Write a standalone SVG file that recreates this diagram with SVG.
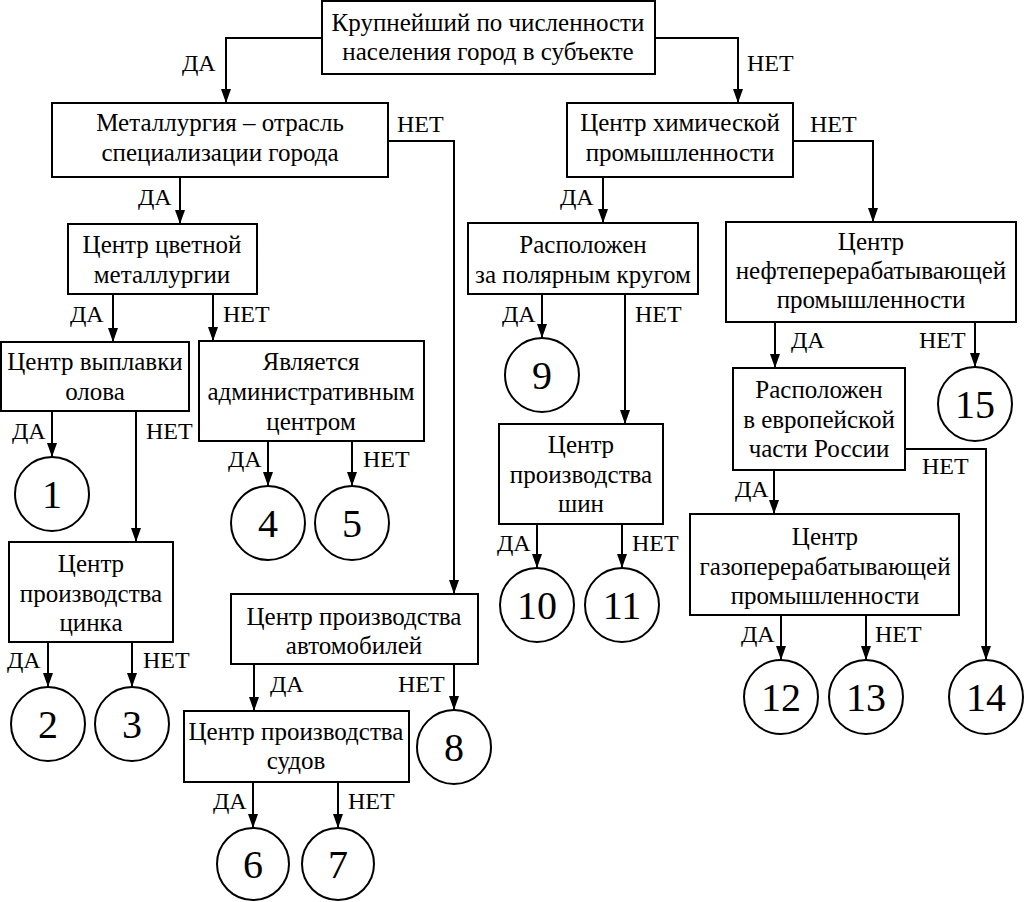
<svg xmlns="http://www.w3.org/2000/svg" width="1024" height="902" viewBox="0 0 1024 902">
<style>
.b{fill:#fff;stroke:#000;stroke-width:2}
.e{fill:none;stroke:#000;stroke-width:2}
</style>
<defs>
<marker id="arrow" viewBox="0 0 14 10" refX="14" refY="5" markerWidth="14" markerHeight="10" markerUnits="userSpaceOnUse" orient="auto">
<path d="M0,0 L14,5 L0,10 z" fill="#000"/>
</marker>
</defs>
<rect x="0" y="0" width="1024" height="902" fill="#ffffff"/>
<g id="connectors">
<path class="e" marker-end="url(#arrow)" d="M322,38 H226 V103"/>
<path class="e" marker-end="url(#arrow)" d="M655,38 H738 V103"/>
<path class="e" marker-end="url(#arrow)" d="M388,141 H454 V594"/>
<path class="e" marker-end="url(#arrow)" d="M180,177 V224"/>
<path class="e" marker-end="url(#arrow)" d="M793,141 H873 V222"/>
<path class="e" marker-end="url(#arrow)" d="M603,177 V223"/>
<path class="e" marker-end="url(#arrow)" d="M113,294 V342"/>
<path class="e" marker-end="url(#arrow)" d="M213,294 V341"/>
<path class="e" marker-end="url(#arrow)" d="M52,411 V457"/>
<path class="e" marker-end="url(#arrow)" d="M136,411 V542"/>
<path class="e" marker-end="url(#arrow)" d="M268,441 V486"/>
<path class="e" marker-end="url(#arrow)" d="M352,441 V486"/>
<path class="e" marker-end="url(#arrow)" d="M48,642 V687"/>
<path class="e" marker-end="url(#arrow)" d="M132,642 V687"/>
<path class="e" marker-end="url(#arrow)" d="M254,664 V711"/>
<path class="e" marker-end="url(#arrow)" d="M454,664 V710"/>
<path class="e" marker-end="url(#arrow)" d="M253,782 V828"/>
<path class="e" marker-end="url(#arrow)" d="M338,782 V828"/>
<path class="e" marker-end="url(#arrow)" d="M542,294 V338"/>
<path class="e" marker-end="url(#arrow)" d="M625,294 V424"/>
<path class="e" marker-end="url(#arrow)" d="M537,524 V568"/>
<path class="e" marker-end="url(#arrow)" d="M622,524 V568"/>
<path class="e" marker-end="url(#arrow)" d="M775,322 V368"/>
<path class="e" marker-end="url(#arrow)" d="M975,322 V367"/>
<path class="e" marker-end="url(#arrow)" d="M774,470 V514"/>
<path class="e" marker-end="url(#arrow)" d="M905,449 H986 V660"/>
<path class="e" marker-end="url(#arrow)" d="M781,615 V660"/>
<path class="e" marker-end="url(#arrow)" d="M866,615 V660"/>
<text font-family="Liberation Serif" font-size="24" x="182" y="71">ДА</text>
<text font-family="Liberation Serif" font-size="24" x="747" y="71">НЕТ</text>
<text font-family="Liberation Serif" font-size="24" x="397" y="132">НЕТ</text>
<text font-family="Liberation Serif" font-size="24" x="138" y="205">ДА</text>
<text font-family="Liberation Serif" font-size="24" x="810" y="132">НЕТ</text>
<text font-family="Liberation Serif" font-size="24" x="560" y="205">ДА</text>
<text font-family="Liberation Serif" font-size="24" x="70" y="322">ДА</text>
<text font-family="Liberation Serif" font-size="24" x="223" y="322">НЕТ</text>
<text font-family="Liberation Serif" font-size="24" x="12" y="439">ДА</text>
<text font-family="Liberation Serif" font-size="24" x="146" y="439">НЕТ</text>
<text font-family="Liberation Serif" font-size="24" x="228" y="467">ДА</text>
<text font-family="Liberation Serif" font-size="24" x="363" y="467">НЕТ</text>
<text font-family="Liberation Serif" font-size="24" x="7" y="668">ДА</text>
<text font-family="Liberation Serif" font-size="24" x="143" y="668">НЕТ</text>
<text font-family="Liberation Serif" font-size="24" x="270" y="692">ДА</text>
<text font-family="Liberation Serif" font-size="24" x="398" y="692">НЕТ</text>
<text font-family="Liberation Serif" font-size="24" x="213" y="809">ДА</text>
<text font-family="Liberation Serif" font-size="24" x="348" y="809">НЕТ</text>
<text font-family="Liberation Serif" font-size="24" x="502" y="322">ДА</text>
<text font-family="Liberation Serif" font-size="24" x="635" y="322">НЕТ</text>
<text font-family="Liberation Serif" font-size="24" x="497" y="551">ДА</text>
<text font-family="Liberation Serif" font-size="24" x="632" y="551">НЕТ</text>
<text font-family="Liberation Serif" font-size="24" x="791" y="348">ДА</text>
<text font-family="Liberation Serif" font-size="24" x="919" y="348">НЕТ</text>
<text font-family="Liberation Serif" font-size="24" x="922" y="474">НЕТ</text>
<text font-family="Liberation Serif" font-size="24" x="735" y="497">ДА</text>
<text font-family="Liberation Serif" font-size="24" x="741" y="642">ДА</text>
<text font-family="Liberation Serif" font-size="24" x="875" y="642">НЕТ</text>
</g>
<g id="n-top"><rect class="b" x="322" y="1" width="333" height="73"/><text font-family="Liberation Serif" font-size="25" text-anchor="middle" x="488" y="31">Крупнейший по численности</text><text font-family="Liberation Serif" font-size="25" text-anchor="middle" x="488" y="60">населения город в субъекте</text></g>
<g id="n-metal"><rect class="b" x="52" y="103" width="336" height="74"/><text font-family="Liberation Serif" font-size="25" text-anchor="middle" x="220" y="131">Металлургия – отрасль</text><text font-family="Liberation Serif" font-size="25" text-anchor="middle" x="220" y="161">специализации города</text></g>
<g id="n-chem"><rect class="b" x="567" y="103" width="226" height="74"/><text font-family="Liberation Serif" font-size="25" text-anchor="middle" x="680" y="131">Центр химической</text><text font-family="Liberation Serif" font-size="25" text-anchor="middle" x="680" y="161">промышленности</text></g>
<g id="n-color"><rect class="b" x="68" y="224" width="189" height="70"/><text font-family="Liberation Serif" font-size="25" text-anchor="middle" x="162" y="253">Центр цветной</text><text font-family="Liberation Serif" font-size="25" text-anchor="middle" x="162" y="283">металлургии</text></g>
<g id="n-tin"><rect class="b" x="1" y="342" width="188" height="69"/><text font-family="Liberation Serif" font-size="25" text-anchor="middle" x="95" y="370">Центр выплавки</text><text font-family="Liberation Serif" font-size="25" text-anchor="middle" x="95" y="400">олова</text></g>
<g id="n-admin"><rect class="b" x="199" y="341" width="225" height="100"/><text font-family="Liberation Serif" font-size="25" text-anchor="middle" x="311" y="370">Является</text><text font-family="Liberation Serif" font-size="25" text-anchor="middle" x="311" y="400">административным</text><text font-family="Liberation Serif" font-size="25" text-anchor="middle" x="311" y="430">центром</text></g>
<g id="n-zinc"><rect class="b" x="9" y="542" width="164" height="100"/><text font-family="Liberation Serif" font-size="25" text-anchor="middle" x="91" y="572">Центр</text><text font-family="Liberation Serif" font-size="25" text-anchor="middle" x="91" y="602">производства</text><text font-family="Liberation Serif" font-size="25" text-anchor="middle" x="91" y="631">цинка</text></g>
<g id="n-auto"><rect class="b" x="231" y="594" width="247" height="70"/><text font-family="Liberation Serif" font-size="25" text-anchor="middle" x="354" y="625">Центр производства</text><text font-family="Liberation Serif" font-size="25" text-anchor="middle" x="354" y="654">автомобилей</text></g>
<g id="n-ship"><rect class="b" x="184" y="711" width="225" height="71"/><text font-family="Liberation Serif" font-size="25" text-anchor="middle" x="296" y="740">Центр производства</text><text font-family="Liberation Serif" font-size="25" text-anchor="middle" x="296" y="769">судов</text></g>
<g id="n-polar"><rect class="b" x="468" y="223" width="230" height="71"/><text font-family="Liberation Serif" font-size="25" text-anchor="middle" x="583" y="253">Расположен</text><text font-family="Liberation Serif" font-size="25" text-anchor="middle" x="583" y="283">за полярным кругом</text></g>
<g id="n-tyre"><rect class="b" x="499" y="424" width="164" height="100"/><text font-family="Liberation Serif" font-size="25" text-anchor="middle" x="581" y="453">Центр</text><text font-family="Liberation Serif" font-size="25" text-anchor="middle" x="581" y="483">производства</text><text font-family="Liberation Serif" font-size="25" text-anchor="middle" x="581" y="512">шин</text></g>
<g id="n-oil"><rect class="b" x="726" y="222" width="290" height="100"/><text font-family="Liberation Serif" font-size="25" text-anchor="middle" x="871" y="250">Центр</text><text font-family="Liberation Serif" font-size="25" text-anchor="middle" x="871" y="279">нефтеперерабатывающей</text><text font-family="Liberation Serif" font-size="25" text-anchor="middle" x="871" y="308">промышленности</text></g>
<g id="n-europe"><rect class="b" x="733" y="368" width="172" height="102"/><text font-family="Liberation Serif" font-size="25" text-anchor="middle" x="819" y="398">Расположен</text><text font-family="Liberation Serif" font-size="25" text-anchor="middle" x="819" y="428">в европейской</text><text font-family="Liberation Serif" font-size="25" text-anchor="middle" x="819" y="457">части России</text></g>
<g id="n-gas"><rect class="b" x="690" y="514" width="269" height="101"/><text font-family="Liberation Serif" font-size="25" text-anchor="middle" x="825" y="545">Центр</text><text font-family="Liberation Serif" font-size="25" text-anchor="middle" x="825" y="575">газоперерабатывающей</text><text font-family="Liberation Serif" font-size="25" text-anchor="middle" x="825" y="604">промышленности</text></g>
<g id="c1"><circle class="b" cx="52" cy="494" r="37"/><text font-family="Liberation Serif" font-size="40" text-anchor="middle" x="52" y="508">1</text></g>
<g id="c2"><circle class="b" cx="48" cy="724" r="37"/><text font-family="Liberation Serif" font-size="40" text-anchor="middle" x="48" y="738">2</text></g>
<g id="c3"><circle class="b" cx="132" cy="724" r="37"/><text font-family="Liberation Serif" font-size="40" text-anchor="middle" x="132" y="738">3</text></g>
<g id="c4"><circle class="b" cx="268" cy="523" r="37"/><text font-family="Liberation Serif" font-size="40" text-anchor="middle" x="268" y="537">4</text></g>
<g id="c5"><circle class="b" cx="352" cy="523" r="37"/><text font-family="Liberation Serif" font-size="40" text-anchor="middle" x="352" y="537">5</text></g>
<g id="c6"><circle class="b" cx="253" cy="864" r="36"/><text font-family="Liberation Serif" font-size="40" text-anchor="middle" x="253" y="878">6</text></g>
<g id="c7"><circle class="b" cx="338" cy="864" r="36"/><text font-family="Liberation Serif" font-size="40" text-anchor="middle" x="338" y="878">7</text></g>
<g id="c8"><circle class="b" cx="454" cy="747" r="37"/><text font-family="Liberation Serif" font-size="40" text-anchor="middle" x="454" y="761">8</text></g>
<g id="c9"><circle class="b" cx="542" cy="375" r="37"/><text font-family="Liberation Serif" font-size="40" text-anchor="middle" x="542" y="389">9</text></g>
<g id="c10"><circle class="b" cx="537" cy="605" r="37"/><text font-family="Liberation Serif" font-size="40" text-anchor="middle" x="537" y="619">10</text></g>
<g id="c11"><circle class="b" cx="622" cy="605" r="37"/><text font-family="Liberation Serif" font-size="40" text-anchor="middle" x="622" y="619">11</text></g>
<g id="c12"><circle class="b" cx="781" cy="697" r="37"/><text font-family="Liberation Serif" font-size="40" text-anchor="middle" x="781" y="711">12</text></g>
<g id="c13"><circle class="b" cx="866" cy="697" r="37"/><text font-family="Liberation Serif" font-size="40" text-anchor="middle" x="866" y="711">13</text></g>
<g id="c14"><circle class="b" cx="986" cy="697" r="37"/><text font-family="Liberation Serif" font-size="40" text-anchor="middle" x="986" y="711">14</text></g>
<g id="c15"><circle class="b" cx="975" cy="404" r="37"/><text font-family="Liberation Serif" font-size="40" text-anchor="middle" x="975" y="418">15</text></g>
</svg>
